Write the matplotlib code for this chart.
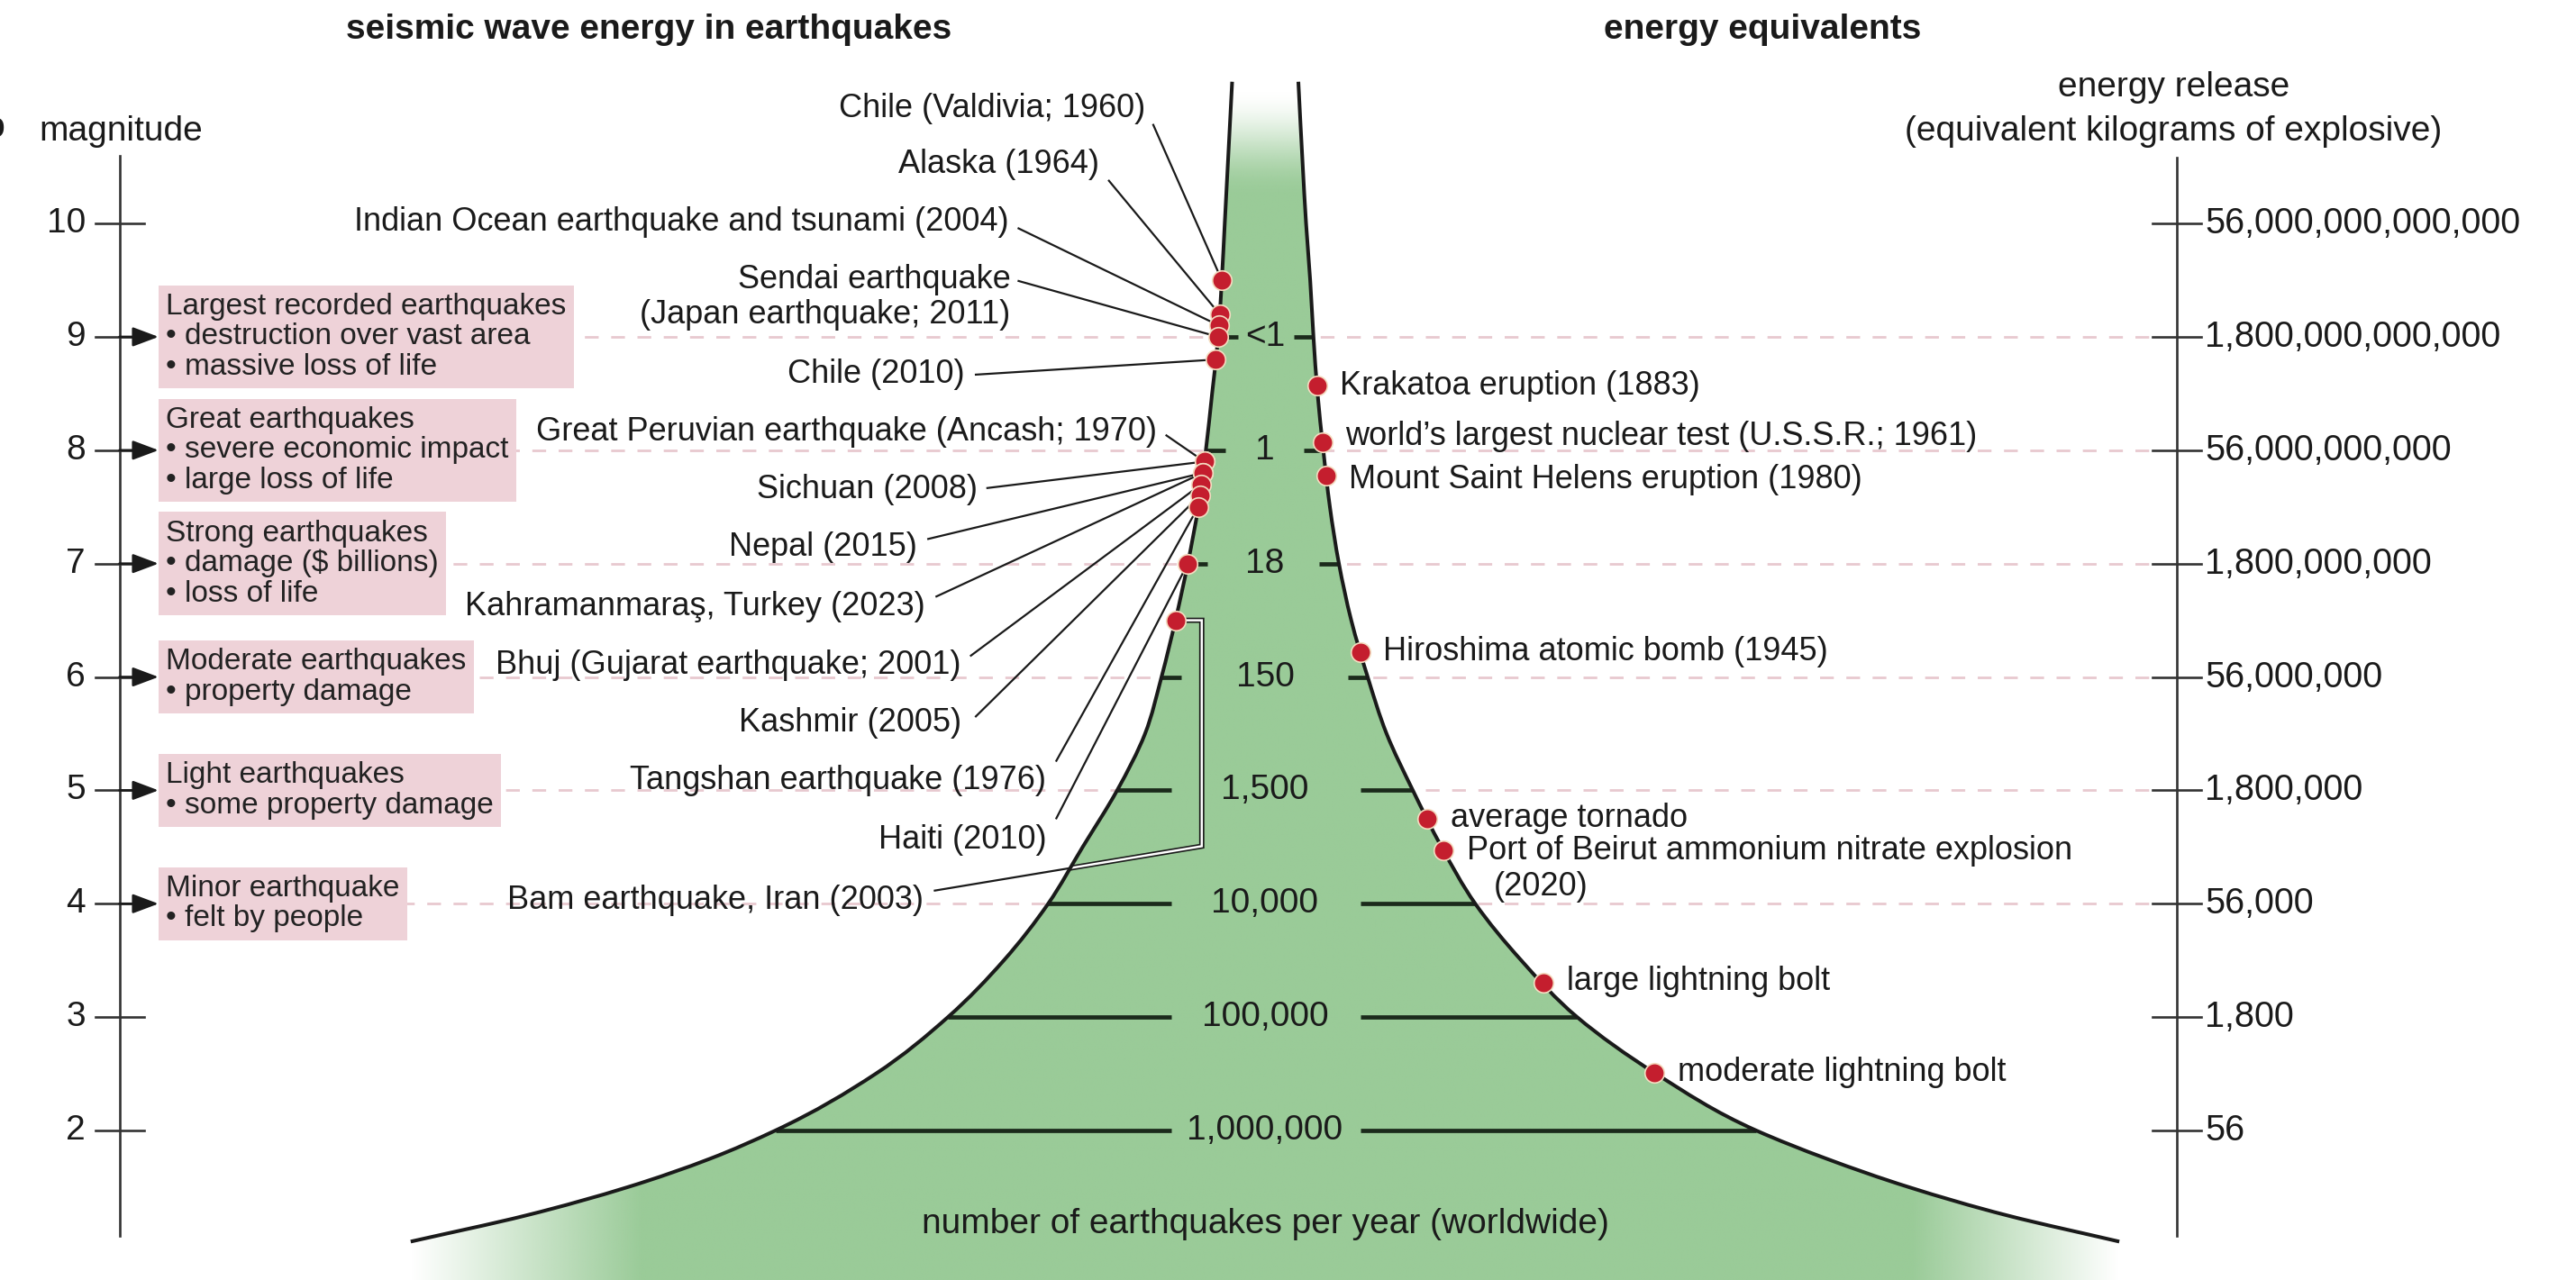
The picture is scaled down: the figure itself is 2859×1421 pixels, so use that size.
import numpy as np
import matplotlib.pyplot as plt
from matplotlib.path import Path
from matplotlib.patches import PathPatch

plt.rcParams['font.family'] = ['Liberation Sans', 'DejaVu Sans']

# ---- data ----
magnitudes = [10, 9, 8, 7, 6, 5, 4, 3, 2]
energy_kg = ["56,000,000,000,000", "1,800,000,000,000", "56,000,000,000",
             "1,800,000,000", "56,000,000", "1,800,000", "56,000", "1,800", "56"]

count_mags = [9, 8, 7, 6, 5, 4, 3, 2]
quakes_per_year = ["<1", "1", "18", "150", "1,500", "10,000", "100,000", "1,000,000"]

class_mags = [9, 8, 7, 6, 5, 4]
class_text = [
    "Largest recorded earthquakes\n• destruction over vast area\n• massive loss of life",
    "Great earthquakes\n• severe economic impact\n• large loss of life",
    "Strong earthquakes\n• damage ($ billions)\n• loss of life",
    "Moderate earthquakes\n• property damage",
    "Light earthquakes\n• some property damage",
    "Minor earthquake\n• felt by people",
]

# funnel outline (magnitude -> horizontal position of each edge)
edge_mags = [11.25, 10.5, 10.0, 9.5, 9.0, 8.5, 8.0, 7.5, 7.0, 6.5, 6.0, 5.5, 5.0,
             4.5, 4.0, 3.5, 3.0, 2.5, 2.0, 1.75, 1.5, 1.25, 1.02]
left_edge = [750, 747.3, 745.5, 743.7, 741.5, 737.8, 734, 729.4, 723, 715.5, 707, 697, 680,
             659, 638, 611, 577, 533, 472, 432, 382, 320, 250]
right_edge = [790.3, 793, 795, 797.5, 799.5, 802, 805.5, 809.5, 815, 822.5, 832.5, 844, 860,
              877.5, 898, 926, 960, 1008, 1069, 1112, 1162, 1222, 1290]

quake_names = [
    "Chile (Valdivia; 1960)", "Alaska (1964)", "Indian Ocean earthquake and tsunami (2004)",
    "Sendai earthquake\n(Japan earthquake; 2011)", "Chile (2010)",
    "Great Peruvian earthquake (Ancash; 1970)", "Sichuan (2008)", "Nepal (2015)",
    "Kahramanmaraş, Turkey (2023)", "Bhuj (Gujarat earthquake; 2001)", "Kashmir (2005)",
    "Tangshan earthquake (1976)", "Haiti (2010)", "Bam earthquake, Iran (2003)",
]
quake_mags = [9.5, 9.2, 9.1, 9.0, 8.8, 7.9, 7.9, 7.8, 7.8, 7.7, 7.6, 7.5, 7.0, 6.5]

energy_names = [
    "Krakatoa eruption (1883)", "world’s largest nuclear test (U.S.S.R.; 1961)",
    "Mount Saint Helens eruption (1980)", "Hiroshima atomic bomb (1945)", "average tornado",
    "Port of Beirut ammonium nitrate explosion\n(2020)", "large lightning bolt",
    "moderate lightning bolt",
]
energy_mags = [8.57, 8.07, 7.78, 6.22, 4.75, 4.47, 3.3, 2.51]


# ---- layout helpers ----
W = 1568


def ypx(p):
    # picture row -> magnitude (layout only)
    return 10 - (p - 136) / 69


# label anchors: (text right x, text row, leader start x, leader start row)
quake_label_pos = [
    (697, 66, 702, 76), (669, 100, 675, 110), (614, 135, 620, 139), (615, 181, 620, 171),
    (587, 228, 594, 228), (704, 263, 710, 265), (595, 298, 601, 297), (558, 333, 565, 328),
    (563, 369, 570, 363), (585, 405, 591, 399), (585, 440, 594, 436), (637, 475, 643, 463),
    (637, 511, 643, 498), (562, 548, 569, 542),
]
energy_nudge = [0, -3.5, 3, 0, 0, 0, -1, 0]

INK = '#1a1a1a'
GREEN = np.array([154, 203, 152]) / 255
PINK = '#eed2d8'
DASH = '#e8c9cf'
RED = '#c41e2e'

ymin, ymax = ypx(779), ypx(0)
em = edge_mags[::-1]


def lx(m):
    return np.interp(m, em, left_edge[::-1])


def rx(m):
    return np.interp(m, em, right_edge[::-1])


def smooth(xs, ts):
    # cubic Bezier path through the points, tangents from non-uniform differences
    xs = np.asarray(xs, float)
    ts = np.asarray(ts, float)
    n = len(xs)
    slope = np.gradient(xs, ts)
    verts, codes = [(xs[0], ts[0])], [Path.MOVETO]
    for i in range(n - 1):
        h = ts[i + 1] - ts[i]
        c1 = (xs[i] + slope[i] * h / 3, ts[i] + h / 3)
        c2 = (xs[i + 1] - slope[i + 1] * h / 3, ts[i + 1] - h / 3)
        verts += [c1, c2, (xs[i + 1], ts[i + 1])]
        codes += [Path.CURVE4] * 3
    return verts, codes


fig = plt.figure(figsize=(28.59, 14.21), dpi=100)
ax = fig.add_axes([0, 0, 1, 1])
ax.set_xlim(0, W)
ax.set_ylim(ymin, ymax)
ax.axis('off')

# ---- funnel ----
lv, lc = smooth(left_edge, edge_mags)
rv, rc = smooth(right_edge[::-1], edge_mags[::-1])
verts = lv + [(left_edge[-1], ymin), (right_edge[-1], ymin)] + rv + [lv[0]]
codes = lc + [Path.LINETO, Path.LINETO] + [Path.LINETO] + rc[1:] + [Path.CLOSEPOLY]
funnel = PathPatch(Path(verts, codes), fc='none', ec='none', transform=ax.transData)
ax.add_patch(funnel)

gx = np.linspace(0, W, 900)
gy = np.linspace(ymin, ymax, 700)
GX, GY = np.meshgrid(gx, gy)
av = np.clip((11.2 - GY) / 0.95, 0, 1)
av = av * av * (3 - 2 * av)
ah = np.clip((GX - 250) / 140, 0, 1) * np.clip((1290 - GX) / 125, 0, 1)
rgba = np.zeros(GY.shape + (4,))
rgba[..., :3] = GREEN
rgba[..., 3] = av * ah
im = ax.imshow(rgba, extent=[0, W, ymin, ymax], origin='lower', aspect='auto',
               interpolation='bilinear', zorder=2)
im.set_clip_path(funnel)

ax.add_patch(PathPatch(Path(lv, lc), fill=False, ec=INK, lw=2.9, zorder=5))
ax.add_patch(PathPatch(Path(*smooth(right_edge, edge_mags)), fill=False, ec=INK, lw=2.9, zorder=5))

# count rows inside the funnel
for m, lbl in zip(count_mags, quakes_per_year):
    le, re = lx(m), rx(m)
    ax.plot([le, max(le + 12, 713)], [m, m], color='#1b2a1b', lw=3.4, zorder=4,
            solid_capstyle='butt')
    ax.plot([min(re - 12, 828), re], [m, m], color='#1b2a1b', lw=3.4, zorder=4,
            solid_capstyle='butt')
    ax.text(770, m, lbl, ha='center', va='center', fontsize=28, color=INK, zorder=6)

ax.text(770, ypx(745), "number of earthquakes per year (worldwide)", ha='center',
        va='center', fontsize=28, color=INK, zorder=6)

# ---- magnitude axis (left) ----
ax.plot([72.7, 72.7], [ypx(95), ypx(752)], color='#333333', lw=1.9, zorder=3)
for m in magnitudes:
    ax.plot([58, 88], [m, m], color='#333333', lw=1.9, zorder=3)
    ax.text(52, m, str(m), ha='right', va='center', fontsize=28, color=INK)
ax.text(24, ypx(80), "magnitude", ha='left', va='center', fontsize=28, color=INK)
ax.text(3, ypx(78), "b", ha='right', va='center', fontsize=28, color=INK, fontweight='bold')

# class boxes, arrows and dashed guides
for m, txt in zip(class_mags, class_text):
    ax.plot([100, 1310], [m, m], color=DASH, lw=2, dashes=(5.5, 5), zorder=1)
    ax.text(101, m, txt, ha='left', va='center', fontsize=24, color='#222222',
            linespacing=1.1, zorder=4,
            bbox=dict(boxstyle='square,pad=0.25', fc=PINK, ec='none'))
    ax.annotate('', xy=(96.5, m), xytext=(72.7, m), zorder=4,
                arrowprops=dict(arrowstyle='-|>,head_length=0.8,head_width=0.3',
                                color=INK, lw=1.9, mutation_scale=22,
                                shrinkA=0, shrinkB=0))

# ---- energy axis (right) ----
ax.plot([1325, 1325], [ypx(96), ypx(752)], color='#333333', lw=1.9, zorder=3)
for m, lbl in zip(magnitudes, energy_kg):
    ax.plot([1310, 1340], [m, m], color='#333333', lw=1.9, zorder=3)
    ax.text(1342, m, lbl, ha='left', va='center', fontsize=28.5, color=INK)
ax.text(1323, ypx(53), "energy release", ha='center', va='center', fontsize=28, color=INK)
ax.text(1323, ypx(80), "(equivalent kilograms of explosive)", ha='center', va='center',
        fontsize=28, color=INK)

# titles
ax.text(395, ypx(18), "seismic wave energy in earthquakes", ha='center', va='center',
        fontsize=28, fontweight='bold', color=INK)
ax.text(1073, ypx(18), "energy equivalents", ha='center', va='center',
        fontsize=28, fontweight='bold', color=INK)

# ---- earthquakes on the left edge ----
dot_kw = dict(marker='o', ms=15.5, mfc=RED, mec='#f3dcc0', mew=1.2, ls='none', zorder=7)
for i, (name, m) in enumerate(zip(quake_names, quake_mags)):
    tx, ty, sx, sy = quake_label_pos[i]
    dx = lx(m)
    ax.text(tx, ypx(ty), name, ha='right', va='center', ma='right', fontsize=26,
            color=INK, linespacing=1.15, zorder=6)
    if name.startswith("Bam"):
        bx, by = 731.5, ypx(515)
        px = [sx, bx, bx, dx]
        py = [ypx(sy), by, m, m]
        ax.plot(px, py, color=INK, lw=1.6, zorder=4)
        thick, = ax.plot(px, py, color=INK, lw=4.2, zorder=4.5, solid_joinstyle='miter')
        core, = ax.plot(px, py, color='white', lw=1.8, zorder=4.6, solid_joinstyle='miter')
        thick.set_clip_path(funnel)
        core.set_clip_path(funnel)
    else:
        ax.plot([sx, dx], [ypx(sy), m], color=INK, lw=1.6, zorder=4)
    ax.plot([dx], [m], **dot_kw)

# ---- energy equivalents on the right edge ----
for name, m, nud in zip(energy_names, energy_mags, energy_nudge):
    dx = rx(m)
    ax.plot([dx], [m], **dot_kw)
    for k, line in enumerate(name.split('\n')):
        ax.text(dx + 14 + (16.5 if k else 0), m - nud / 69 - k * 0.317, line,
                ha='left', va='center', fontsize=26, color=INK, zorder=6)

fig.savefig("out.png", dpi=100)
